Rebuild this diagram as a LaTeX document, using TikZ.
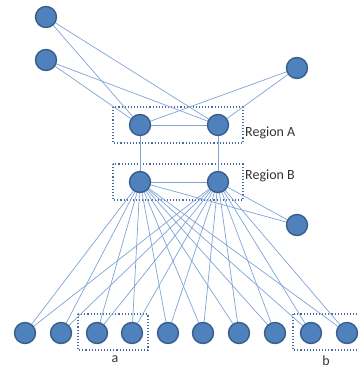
\documentclass[tikz,border=0pt]{standalone}
\usepackage{fontspec}
\setmainfont{Carlito}
\usetikzlibrary{positioning}
\definecolor{nodefill}{HTML}{4F81BD}
\definecolor{nodeline}{HTML}{385D8A}
\definecolor{linkcol}{HTML}{7FA3D6}
\definecolor{boxcol}{HTML}{4A6A9E}
\tikzset{
	host/.style={circle,fill=nodefill,draw=nodeline,line width=1.4pt,minimum size=21pt,inner sep=0pt},
	link/.style={draw=linkcol,line width=0.7pt},
	regionbox/.style={draw=boxcol,dotted,line width=1.1pt},
	lbl/.style={font=\fontsize{14}{16}\selectfont,text=black!80,inner sep=0pt}
}

\begin{document}
\begin{tikzpicture}[x=1pt,y=-1pt]
	\useasboundingbox (0,0) rectangle (359,370);
	% region boxes
	\draw[regionbox] (113,107) rectangle (243,143);
	\draw[regionbox] (113,164) rectangle (243,200);
	\draw[regionbox] (78,314) rectangle (148,350);
	\draw[regionbox] (293,314) rectangle (362,350);
	\node[lbl,anchor=west] (labA) at (245,133) {Region A};
	\node[lbl,anchor=west] (labB) at (245,176) {Region B};
	\node[lbl] (laba) at (115,359) {a};
	\node[lbl] (labb) at (326,361) {b};
	%
	\coordinate (t1) at (46,17);
	\coordinate (t2) at (46,60);
	\coordinate (t3) at (297,68);
	\coordinate (a1) at (140,125);
	\coordinate (a2) at (218,125);
	\coordinate (b1) at (140,182);
	\coordinate (b2) at (218,182);
	\coordinate (r1) at (297,225);
	\foreach \x [count=\i] in {25,61,97,132,168,203,239,275,311,347}
		\coordinate (d\i) at (\x,333);
	% links
	\foreach \s in {t1,t2,t3}
		\foreach \t in {a1,a2}
			\draw[link] (\s)--(\t);
	\draw[link] (a1)--(a2);
	\draw[link] (a1)--(b1);
	\draw[link] (a2)--(b2);
	\draw[link] (b1)--(b2);
	\draw[link] (b1)--(r1);
	\draw[link] (b2)--(r1);
	\foreach \i in {1,...,10}{
		\draw[link] (b1)--(d\i);
		\draw[link] (b2)--(d\i);
	}
	% hosts
	\foreach \n in {t1,t2,t3,a1,a2,b1,b2,r1}
		\node[host] (h\n) at (\n) {};
	\foreach \i in {1,...,10}
		\node[host] (hd\i) at (d\i) {};
\end{tikzpicture}
\end{document}
